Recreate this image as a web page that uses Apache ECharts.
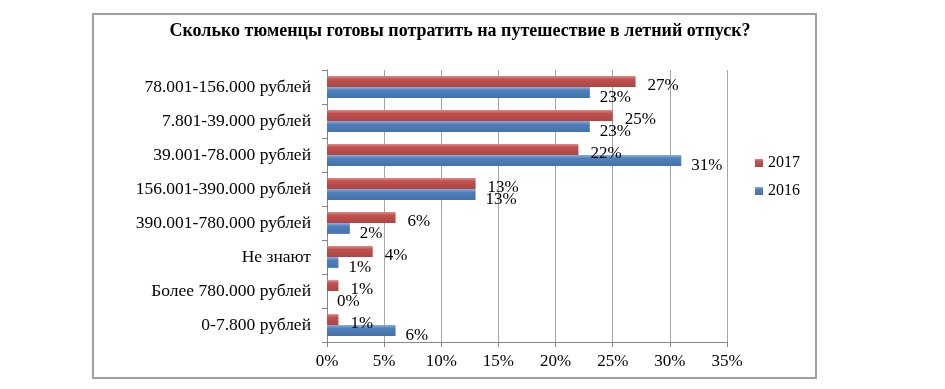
<!DOCTYPE html>
<html><head><meta charset="utf-8">
<script src="https://cdn.jsdelivr.net/npm/echarts@6/dist/echarts.min.js"></script>
<style>html,body{margin:0;padding:0;background:#fff}#c{width:945px;height:389px}</style>
</head><body><div id="c"></div>
<script>
const title = 'Сколько тюменцы готовы потратить на путешествие в летний отпуск?';
const categories = ['78.001-156.000 рублей','7.801-39.000 рублей','39.001-78.000 рублей','156.001-390.000 рублей','390.001-780.000 рублей','Не знают','Более 780.000 рублей','0-7.800 рублей'];
const values2017 = [27,25,22,13,6,4,1,1];
const values2016 = [23,23,31,13,2,1,0,6];
const seriesNames = ['2017','2016'];
const xTicks = [0,5,10,15,20,25,30,35];

const font = 'Liberation Serif, Times New Roman, serif';
const chart = echarts.init(document.getElementById('c'));
function grad(top, mid, bot){
  return new echarts.graphic.LinearGradient(0,0,0,1,[{offset:0,color:top},{offset:0.3,color:mid},{offset:1,color:bot}]);
}
chart.setOption({
  animation:false,
  backgroundColor:'#fff',
  title:{text:title,left:455,textAlign:'center',top:17,textStyle:{fontFamily:font,fontWeight:'bold',fontSize:18,color:'#000'}},
  legend:{orient:'vertical',left:750,top:150,itemWidth:8,itemHeight:8,itemGap:12,icon:'rect',
    textStyle:{fontFamily:font,fontSize:16,color:'#000'},data:seriesNames},
  grid:{left:327,right:218,top:70,bottom:47},
  xAxis:{type:'value',min:xTicks[0],max:xTicks[xTicks.length-1],interval:5,
    axisLabel:{formatter:'{value}%',fontFamily:font,fontSize:17,color:'#000',margin:11},
    axisLine:{show:true,lineStyle:{color:'#868686'}},axisTick:{show:true,lineStyle:{color:'#868686'}},
    splitLine:{show:true,lineStyle:{color:'#a6a6a6'}}},
  yAxis:{type:'category',data:categories,inverse:true,
    axisLabel:{fontFamily:font,fontSize:17.5,color:'#000',margin:16},
    axisLine:{show:true,lineStyle:{color:'#868686'}},axisTick:{show:true,length:5,lineStyle:{color:'#868686'}}},
  series:[
    {name:seriesNames[0],type:'bar',data:values2017,barCategoryGap:'36%',barGap:'0%',
     itemStyle:{color:grad('#d98b89','#C0504D','#ad4542')},
     label:{show:true,position:'right',distance:12,offset:[0,4],formatter:'{c}%',fontFamily:font,fontSize:17,color:'#000'}},
    {name:seriesNames[1],type:'bar',data:values2016,barCategoryGap:'36%',barGap:'0%',
     itemStyle:{color:grad('#8fb0da','#4F81BD','#4471a8')},
     label:{show:true,position:'right',distance:10,offset:[0,5],formatter:'{c}%',fontFamily:font,fontSize:17,color:'#000'}}
  ],
  graphic:[{type:'rect',shape:{x:93,y:14,width:723,height:364},style:{fill:'none',stroke:'#a0a0a0',lineWidth:2},z:-1}]
});
</script></body></html>
